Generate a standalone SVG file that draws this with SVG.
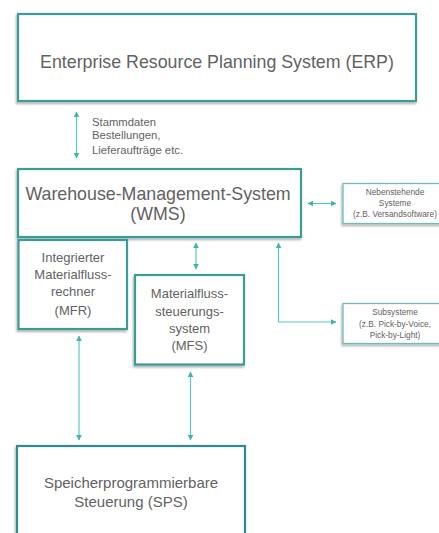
<svg xmlns="http://www.w3.org/2000/svg" width="439" height="533" viewBox="0 0 439 533">
<defs>
<style>
.box{fill:#ffffff;stroke:#3a9c94;stroke-width:2.2;filter:url(#sh)}
.sbox{fill:#ffffff;stroke:#6fbdb6;stroke-width:1.3;filter:url(#sh)}
.t{font-family:"Liberation Sans",Arial,sans-serif;fill:#626262;text-anchor:middle}
.c{stroke:#5cc8bf;stroke-width:1.2;fill:none}
</style>
<filter id="sh" x="-10%" y="-10%" width="120%" height="130%">
<feDropShadow dx="-1" dy="2" stdDeviation="1.2" flood-color="#000" flood-opacity="0.3"/>
</filter>
<marker id="ah" viewBox="0 0 10 10" refX="9" refY="5" markerWidth="6" markerHeight="6" orient="auto-start-reverse" markerUnits="userSpaceOnUse">
<path d="M0,0 L10,5 L0,10 z" fill="#3fb5ac"/>
</marker>
</defs>
<rect width="439" height="533" fill="#ffffff"/>
<g id="connectors">
<line class="c" x1="76.5" y1="112" x2="76.5" y2="158" marker-start="url(#ah)" marker-end="url(#ah)"/>
<line class="c" x1="308" y1="203.5" x2="336" y2="203.5" marker-start="url(#ah)" marker-end="url(#ah)"/>
<line class="c" x1="196" y1="243" x2="196" y2="269" marker-start="url(#ah)" marker-end="url(#ah)"/>
<polyline class="c" points="278.5,243 278.5,322 336,322" marker-start="url(#ah)" marker-end="url(#ah)"/>
<line class="c" x1="79" y1="336" x2="79" y2="440" marker-start="url(#ah)" marker-end="url(#ah)"/>
<line class="c" x1="190.5" y1="372" x2="190.5" y2="440" marker-start="url(#ah)" marker-end="url(#ah)"/>
<text class="t" style="text-anchor:start" font-size="11.3" x="92" y="126">Stammdaten</text>
<text class="t" style="text-anchor:start" font-size="11.3" x="92" y="138.5">Bestellungen,</text>
<text class="t" style="text-anchor:start" font-size="11.3" x="92" y="154">Lieferaufträge etc.</text>
</g>
<g id="erp">
<rect class="box" x="18" y="14" width="398" height="87"/>
<text class="t" font-size="17.8" x="217" y="68">Enterprise Resource Planning System (ERP)</text>
</g>
<g id="wms">
<rect class="box" x="18" y="169" width="283" height="68"/>
<text class="t" font-size="17.8" x="158" y="199.5">Warehouse-Management-System</text>
<text class="t" font-size="17.8" x="158" y="220">(WMS)</text>
</g>
<g id="neben">
<rect class="sbox" x="343" y="183.5" width="100" height="40"/>
<text class="t" font-size="8.3" x="395" y="194.5">Nebenstehende</text>
<text class="t" font-size="8.3" x="395" y="206">Systeme</text>
<text class="t" font-size="8.3" x="395" y="217">(z.B. Versandsoftware)</text>
</g>
<g id="mfr">
<rect class="box" x="18.5" y="240" width="108.5" height="89"/>
<text class="t" font-size="13" x="73" y="262">Integrierter</text>
<text class="t" font-size="13" x="73" y="279">Materialfluss-</text>
<text class="t" font-size="13" x="73" y="296">rechner</text>
<text class="t" font-size="13" x="73" y="314.5">(MFR)</text>
</g>
<g id="mfs">
<rect class="box" x="135" y="275" width="109" height="89.5"/>
<text class="t" font-size="13" x="189.5" y="298">Materialfluss-</text>
<text class="t" font-size="13" x="189.5" y="316">steuerungs-</text>
<text class="t" font-size="13" x="189.5" y="333">system</text>
<text class="t" font-size="13" x="189.5" y="350">(MFS)</text>
</g>
<g id="sub">
<rect class="sbox" x="343" y="303.5" width="100" height="40"/>
<text class="t" font-size="8.3" x="395" y="315">Subsysteme</text>
<text class="t" font-size="8.3" x="395" y="327">(z.B. Pick-by-Voice,</text>
<text class="t" font-size="8.3" x="395" y="337.5">Pick-by-Light)</text>
</g>
<g id="sps">
<rect class="box" x="17" y="446" width="228" height="100" style="stroke:#2f8a95"/>
<text class="t" font-size="15" x="131" y="488">Speicherprogrammierbare</text>
<text class="t" font-size="15" x="131" y="507">Steuerung (SPS)</text>
</g>
</svg>
